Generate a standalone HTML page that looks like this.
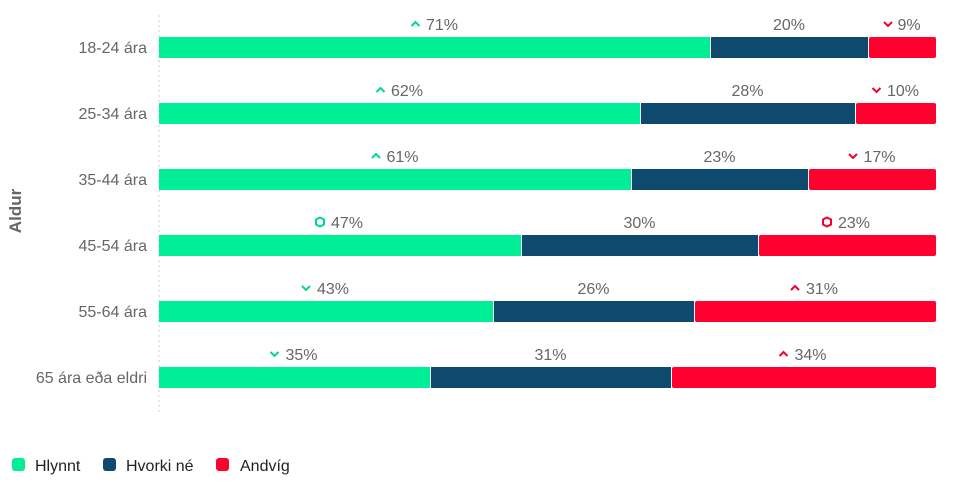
<!DOCTYPE html>
<html><head><meta charset="utf-8"><style>
html,body{margin:0;padding:0;background:#fff;}
svg{display:block;font-family:"Liberation Sans",Arial,sans-serif;}
.l{font-size:16px;fill:#666;}
.r{font-size:16px;fill:#666;text-anchor:end;}
.m{font-size:16px;fill:#666;text-anchor:middle;}
.g{fill:#00EE96}.n{fill:#0E4A6E}.d{fill:#FF002F}
.ug{fill:none;stroke:#00D98A;stroke-width:2}
.ud{fill:none;stroke:#F0002C;stroke-width:2}
.lg{font-size:16px;fill:#222;}
</style></head><body>
<svg width="958" height="484" viewBox="0 0 958 484">
<line x1="159" y1="15" x2="159" y2="412" stroke="#ccc" stroke-dasharray="2,3"/>
<text x="21" y="211" transform="rotate(-90 21 211)" text-anchor="middle" style="font-size:17px;font-weight:bold;fill:#666">Aldur</text>

<g transform="translate(0,0)">
<rect x="159" y="37" width="551" height="21" class="g"/><rect x="711" y="37" width="157" height="21" class="n"/><rect x="869" y="37" width="67" height="21" class="d" rx="2"/>
<text x="147" y="53" class="r">18-24 ára</text>
<polyline points="411.5,26 415.5,22 419.5,26" class="ug"/><text x="426" y="30" class="l">71%</text>
<text x="789" y="30" class="m">20%</text>
<polyline points="884,22 888,26 892,22" class="ud"/><text x="897.5" y="30" class="l">9%</text>
</g>
<g transform="translate(0,66)">
<rect x="159" y="37" width="481" height="21" class="g"/><rect x="641" y="37" width="214" height="21" class="n"/><rect x="856" y="37" width="80" height="21" class="d" rx="2"/>
<text x="147" y="53" class="r">25-34 ára</text>
<polyline points="376.5,26 380.5,22 384.5,26" class="ug"/><text x="391" y="30" class="l">62%</text>
<text x="747.5" y="30" class="m">28%</text>
<polyline points="872.5,22 876.5,26 880.5,22" class="ud"/><text x="887" y="30" class="l">10%</text>
</g>
<g transform="translate(0,132)">
<rect x="159" y="37" width="472" height="21" class="g"/><rect x="632" y="37" width="176" height="21" class="n"/><rect x="809" y="37" width="127" height="21" class="d" rx="2"/>
<text x="147" y="53" class="r">35-44 ára</text>
<polyline points="372,26 376,22 380,26" class="ug"/><text x="386.5" y="30" class="l">61%</text>
<text x="719.5" y="30" class="m">23%</text>
<polyline points="849,22 853,26 857,22" class="ud"/><text x="863.5" y="30" class="l">17%</text>
</g>
<g transform="translate(0,198)">
<rect x="159" y="37" width="362" height="21" class="g"/><rect x="522" y="37" width="236" height="21" class="n"/><rect x="759" y="37" width="177" height="21" class="d" rx="2"/>
<text x="147" y="53" class="r">45-54 ára</text>
<polygon points="320,19.5 324,21.5 324,26.5 320,28.5 316,26.5 316,21.5" class="ug"/><text x="331" y="30" class="l">47%</text>
<text x="639.5" y="30" class="m">30%</text>
<polygon points="827,19.5 831,21.5 831,26.5 827,28.5 823,26.5 823,21.5" class="ud"/><text x="838" y="30" class="l">23%</text>
</g>
<g transform="translate(0,264)">
<rect x="159" y="37" width="334" height="21" class="g"/><rect x="494" y="37" width="200" height="21" class="n"/><rect x="695" y="37" width="241" height="21" class="d" rx="2"/>
<text x="147" y="53" class="r">55-64 ára</text>
<polyline points="302,22 306,26 310,22" class="ug"/><text x="317" y="30" class="l">43%</text>
<text x="593.5" y="30" class="m">26%</text>
<polyline points="791,26 795,22 799,26" class="ud"/><text x="806" y="30" class="l">31%</text>
</g>
<g transform="translate(0,330)">
<rect x="159" y="37" width="271" height="21" class="g"/><rect x="431" y="37" width="240" height="21" class="n"/><rect x="672" y="37" width="264" height="21" class="d" rx="2"/>
<text x="147" y="53" class="r">65 ára eða eldri</text>
<polyline points="270.5,22 274.5,26 278.5,22" class="ug"/><text x="285.5" y="30" class="l">35%</text>
<text x="550.5" y="30" class="m">31%</text>
<polyline points="779.5,26 783.5,22 787.5,26" class="ud"/><text x="794.5" y="30" class="l">34%</text>
</g>

<rect x="12" y="458" width="13" height="13" rx="3" class="g"/><text x="35" y="471" class="lg">Hlynnt</text>
<rect x="103" y="458" width="13" height="13" rx="3" class="n"/><text x="126" y="471" class="lg">Hvorki né</text>
<rect x="216" y="458" width="13" height="13" rx="3" class="d"/><text x="240" y="471" class="lg">Andvíg</text>
</svg>
</body></html>
